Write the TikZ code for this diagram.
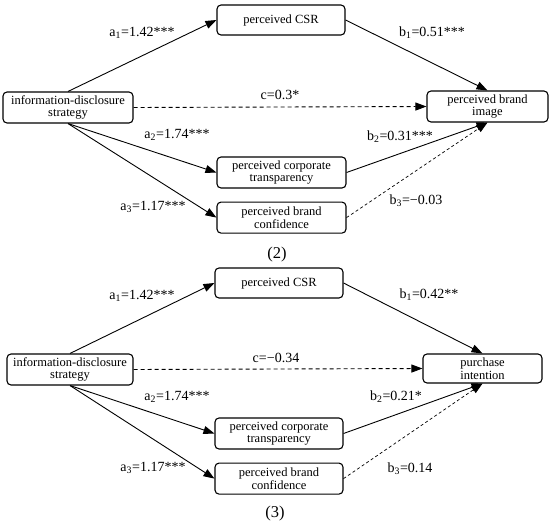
\documentclass[tikz,border=0pt]{standalone}
\usepackage{fontspec}
\setmainfont{Liberation Serif}
\usetikzlibrary{arrows.meta,positioning}

\begin{document}
\begin{tikzpicture}[x=1pt, y=-1pt, >={Triangle[length=11pt,width=8pt]}]
    \tikzstyle{construct} = [rectangle, draw, rounded corners=4pt, line width=1.1pt, align=center, inner sep=0pt, minimum height=31pt, font=\fontsize{12.5}{12.5}\selectfont]
    \tikzstyle{effect} = [line width=0.9pt, ->]
    \tikzstyle{direct} = [effect, dashed, dash pattern=on 4pt off 3pt]
    \tikzstyle{coef} = [inner sep=1pt, font=\fontsize{14}{14}\selectfont]
    \tikzstyle{caption} = [font=\fontsize{16.5}{16.5}\selectfont]

    \useasboundingbox (0,0) rectangle (550,523);

    % Model (2)
    \node [construct, minimum width=130pt] (info2) at (68,107.5) {information-disclosure\\strategy};
    \node [construct, minimum width=128pt, minimum height=30pt] (csr2) at (281,20) {perceived CSR};
    \node [construct, minimum width=121pt] (img2) at (487.5,106.5) {perceived brand\\image};
    \node [construct, minimum width=129pt] (tra2) at (281.5,172.5) {perceived corporate\\transparency};
    \node [construct, minimum width=129pt, below=13pt of tra2] (con2) {perceived brand\\confidence};

    \draw [effect] (info2.north) -- (csr2.west);
    \draw [effect] (csr2.east) -- (img2.north);
    \draw [direct] (info2.east) -- (img2.west);
    \draw [effect] (info2.south) -- (tra2.west);
    \draw [effect] (info2.south) -- (con2.west);
    \draw [effect] (tra2.east) -- (img2.south);
    \draw [direct, dash pattern=on 3pt off 2.5pt, line width=0.7pt] (con2.east) -- (img2.south);

    \node [coef] (a1l2) at (142,33) {a\textsubscript{1}=1.42***};
    \node [coef] (b1l2) at (432,33) {b\textsubscript{1}=0.51***};
    \node [coef] (cl2) at (280,95) {c=0.3*};
    \node [coef] (a2l2) at (177,135) {a\textsubscript{2}=1.74***};
    \node [coef] (a3l2) at (153,207) {a\textsubscript{3}=1.17***};
    \node [coef] (b2l2) at (400,137) {b\textsubscript{2}=0.31***};
    \node [coef] (b3l2) at (416,201) {b\textsubscript{3}=−0.03};
    \node [caption] (cap2) at (277,255) {(2)};

    % Model (3)
    \node [construct, minimum width=126pt] (info3) at (70,369.5) {information-disclosure\\strategy};
    \node [construct, minimum width=128pt, minimum height=30pt] (csr3) at (279,283) {perceived CSR};
    \node [construct, minimum width=119pt, minimum height=29pt] (pur3) at (482.5,368.5) {purchase\\intention};
    \node [construct, minimum width=128pt] (tra3) at (279,433.5) {perceived corporate\\transparency};
    \node [construct, minimum width=128pt, below=13pt of tra3] (con3) {perceived brand\\confidence};

    \draw [effect] (info3.north) -- (csr3.west);
    \draw [effect] (csr3.east) -- (pur3.north);
    \draw [direct] (info3.east) -- (pur3.west);
    \draw [effect] (info3.south) -- (tra3.west);
    \draw [effect] (info3.south) -- (con3.west);
    \draw [effect] (tra3.east) -- (pur3.south);
    \draw [direct, dash pattern=on 3pt off 2.5pt, line width=0.7pt] (con3.east) -- (pur3.south);

    \node [coef] (a1l3) at (142,296) {a\textsubscript{1}=1.42***};
    \node [coef] (b1l3) at (429,295) {b\textsubscript{1}=0.42**};
    \node [coef] (cl3) at (276,358) {c=−0.34};
    \node [coef] (a2l3) at (177,397) {a\textsubscript{2}=1.74***};
    \node [coef] (a3l3) at (153,468) {a\textsubscript{3}=1.17***};
    \node [coef] (b2l3) at (396,397) {b\textsubscript{2}=0.21*};
    \node [coef] (b3l3) at (410,469) {b\textsubscript{3}=0.14};
    \node [caption] (cap3) at (275,514) {(3)};
\end{tikzpicture}
\end{document}
